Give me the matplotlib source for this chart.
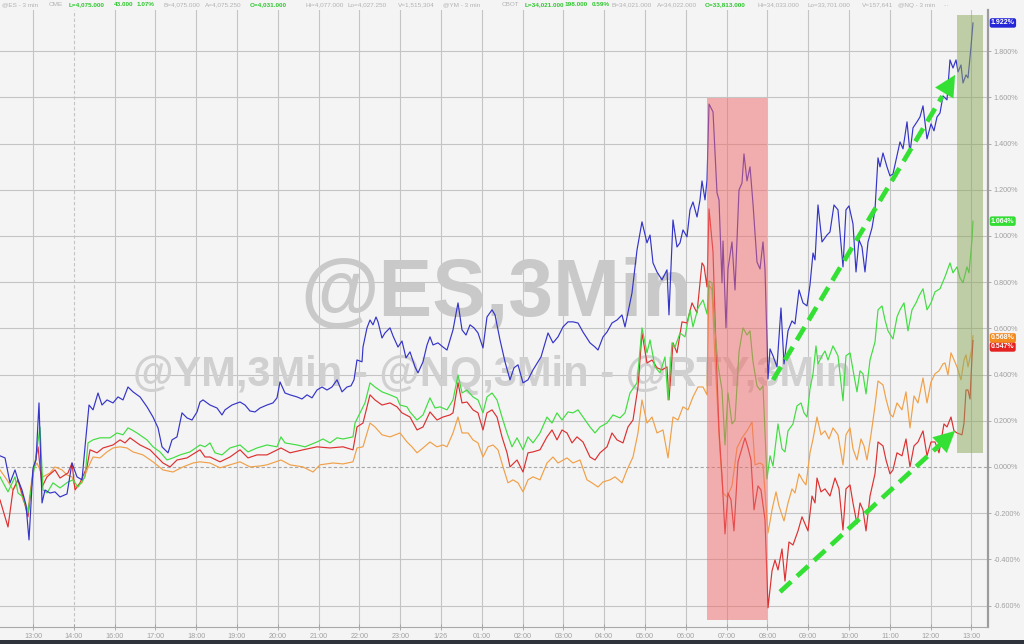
import matplotlib
matplotlib.use('Agg')
import matplotlib.pyplot as plt
from matplotlib.patches import Rectangle
import matplotlib.transforms as mtransforms
import numpy as np

plt.rcParams['font.family'] = ['Liberation Sans', 'DejaVu Sans']

# ---------------- data ----------------
hour_labels = ['13:00', '14:00', '16:00', '17:00', '18:00', '19:00', '20:00', '21:00',
               '22:00', '23:00', '1/26', '01:00', '02:00', '03:00', '04:00', '05:00',
               '06:00', '07:00', '08:00', '09:00', '10:00', '11:00', '12:00', '13:00']

# NQ (blue)  time in trading hours since 13:00, value in %
t_nq = [-0.809, -0.686, -0.564, -0.441, -0.368, -0.270, -0.172, -0.098, 0.0, 0.074, 0.147, 0.221, 0.294, 0.417,
        0.539, 0.662, 0.833, 0.956, 1.078, 1.201, 1.275, 1.373, 1.471, 1.593, 1.691, 1.814, 1.961, 2.083, 2.206,
        2.328, 2.451, 2.623, 2.794, 2.941, 3.064, 3.162, 3.235, 3.309, 3.407, 3.529, 3.652, 3.775, 3.897, 4.020,
        4.093, 4.167, 4.338, 4.510, 4.632, 4.706, 4.877, 5.074, 5.196, 5.319, 5.441, 5.564, 5.735, 5.882, 5.980,
        6.054, 6.176, 6.299, 6.471, 6.593, 6.716, 6.838, 6.961, 7.083, 7.206, 7.328, 7.451, 7.574, 7.696, 7.794,
        7.868, 7.941, 8.064, 8.088, 8.186, 8.260, 8.333, 8.407, 8.456, 8.554, 8.627, 8.750, 8.824, 8.946, 9.044,
        9.142, 9.240, 9.363, 9.436, 9.559, 9.657, 9.730, 9.804, 9.926, 10.049, 10.147, 10.294, 10.417, 10.515,
        10.613, 10.711, 10.809, 10.907, 11.029, 11.127, 11.250, 11.324, 11.446, 11.569, 11.691, 11.789, 11.887,
        12.010, 12.132, 12.255, 12.377, 12.451, 12.623, 12.745, 12.868, 12.990, 13.113, 13.235, 13.358, 13.480,
        13.652, 13.775, 13.848, 13.971, 14.069, 14.191, 14.314, 14.436, 14.510, 14.681, 14.804, 14.926, 15.049,
        15.123, 15.196, 15.294, 15.417, 15.539, 15.588, 15.686, 15.784, 15.858, 15.931, 16.029, 16.103, 16.176,
        16.275, 16.348, 16.397, 16.471, 16.520, 16.569, 16.667, 16.765, 16.814, 16.887, 16.912, 16.985, 17.034,
        17.132, 17.206, 17.304, 17.377, 17.426, 17.500, 17.574, 17.647, 17.745, 17.819, 17.892, 17.941, 18.015,
        18.064, 18.137, 18.235, 18.333, 18.407, 18.505, 18.603, 18.676, 18.775, 18.873, 18.971, 19.044, 19.118,
        19.167, 19.240, 19.338, 19.461, 19.534, 19.632, 19.730, 19.853, 19.926, 20.000, 20.098, 20.172, 20.245,
        20.319, 20.392, 20.466, 20.564, 20.637, 20.711, 20.760, 20.833, 20.931, 21.005, 21.078, 21.176, 21.250,
        21.324, 21.422, 21.495, 21.569, 21.667, 21.740, 21.814, 21.912, 22.010, 22.083, 22.157, 22.230, 22.304,
        22.402, 22.475, 22.549, 22.623, 22.672, 22.745, 22.794, 22.868, 22.917, 22.990, 23.039]
v_nq = [0.048, 0.039, -0.069, -0.013, -0.056, -0.100, -0.165, -0.316, -0.004, 0.030, 0.277, -0.156, -0.100, -0.113,
        -0.108, -0.130, -0.117, 0.017, -0.043, -0.056, 0.087, 0.268, 0.247, 0.320, 0.268, 0.290, 0.277, 0.303, 0.290,
        0.346, 0.325, 0.303, 0.260, 0.216, 0.169, 0.087, 0.074, 0.061, 0.117, 0.130, 0.234, 0.212, 0.203, 0.238,
        0.281, 0.290, 0.268, 0.255, 0.225, 0.247, 0.268, 0.281, 0.268, 0.242, 0.238, 0.255, 0.268, 0.277, 0.299,
        0.368, 0.320, 0.312, 0.303, 0.294, 0.312, 0.299, 0.333, 0.346, 0.333, 0.346, 0.377, 0.325, 0.346, 0.351,
        0.377, 0.463, 0.455, 0.519, 0.602, 0.636, 0.615, 0.649, 0.628, 0.558, 0.580, 0.602, 0.567, 0.519, 0.545,
        0.472, 0.498, 0.433, 0.407, 0.455, 0.528, 0.563, 0.528, 0.537, 0.519, 0.506, 0.593, 0.710, 0.593,
        0.571, 0.615, 0.602, 0.580, 0.515, 0.649, 0.680, 0.658, 0.550, 0.455, 0.377, 0.429, 0.442,
        0.364, 0.377, 0.420, 0.455, 0.476, 0.580, 0.537, 0.563, 0.606, 0.628, 0.628, 0.623, 0.584,
        0.537, 0.519, 0.506, 0.563, 0.584, 0.623, 0.636, 0.658, 0.606, 0.753, 0.939, 1.061, 0.970,
        1.004, 0.883, 0.844, 0.810, 0.853, 0.658, 1.069, 0.952, 0.970, 1.026, 0.996, 1.113, 1.147,
        1.082, 1.156, 1.238, 1.156, 1.242, 1.571, 1.537, 1.186, 1.156, 0.797, 0.978, 0.602, 0.857,
        0.974, 0.766, 1.199, 1.229, 1.355, 1.238, 1.299, 1.139, 0.887, 0.857, 0.974, 0.857, 0.381,
        0.511, 0.481, 0.433, 0.688, 0.446, 0.589, 0.632, 0.619, 0.766, 0.710, 0.697, 0.788, 0.926,
        0.896, 1.134, 0.974, 1.004, 1.017, 1.134, 1.113, 0.866, 1.113, 1.130, 1.052, 0.844, 0.983,
        0.952, 0.844, 0.974, 1.035, 1.113, 1.338, 1.299, 1.359, 1.299, 1.260, 1.268, 1.346, 1.407,
        1.377, 1.494, 1.359, 1.468, 1.494, 1.515, 1.563, 1.420, 1.485, 1.455, 1.515, 1.532, 1.606,
        1.589, 1.762, 1.727, 1.762, 1.710, 1.740, 1.662, 1.697, 1.684, 1.818, 1.922]

# ES (green)
t_es = [-0.809, -0.613, -0.441, -0.368, -0.245, -0.123, -0.025, 0.049, 0.172, 0.245, 0.343, 0.490, 0.662, 0.858,
        0.980, 1.103, 1.275, 1.348, 1.471, 1.642, 1.887, 2.059, 2.206, 2.328, 2.426, 2.549, 2.794, 2.941, 3.113,
        3.284, 3.431, 3.603, 3.848, 4.093, 4.216, 4.338, 4.461, 4.632, 4.828, 5.074, 5.270, 5.490, 5.735, 5.980,
        6.078, 6.176, 6.471, 6.667, 6.961, 7.108, 7.279, 7.451, 7.598, 7.843, 7.892, 8.015, 8.137, 8.260, 8.382,
        8.554, 8.750, 8.922, 8.995, 9.167, 9.240, 9.412, 9.559, 9.730, 9.853, 9.975, 10.147, 10.294, 10.417,
        10.515, 10.637, 10.784, 10.907, 11.029, 11.127, 11.250, 11.373, 11.495, 11.618, 11.740, 11.863, 12.010,
        12.132, 12.255, 12.426, 12.598, 12.721, 12.843, 12.966, 13.113, 13.235, 13.358, 13.480, 13.652, 13.775,
        13.897, 14.069, 14.216, 14.387, 14.510, 14.632, 14.804, 14.926, 15.049, 15.123, 15.245, 15.368, 15.490,
        15.564, 15.662, 15.735, 15.858, 15.980, 16.103, 16.176, 16.299, 16.422, 16.520, 16.569, 16.642, 16.716,
        16.789, 16.887, 16.961, 17.034, 17.132, 17.206, 17.304, 17.402, 17.500, 17.574, 17.647, 17.745, 17.819,
        17.892, 17.990, 18.064, 18.137, 18.260, 18.358, 18.431, 18.505, 18.627, 18.725, 18.824, 18.897, 18.971,
        19.044, 19.118, 19.191, 19.240, 19.338, 19.412, 19.485, 19.608, 19.730, 19.853, 19.926, 20.025, 20.098,
        20.196, 20.270, 20.343, 20.417, 20.515, 20.637, 20.711, 20.809, 20.882, 20.956, 21.078, 21.176, 21.250,
        21.348, 21.446, 21.544, 21.642, 21.716, 21.814, 21.912, 22.010, 22.108, 22.230, 22.353, 22.475, 22.549,
        22.647, 22.721, 22.794, 22.892, 22.941, 23.015, 23.039]
v_es = [-0.043, -0.108, -0.043, -0.113, -0.130, -0.199, -0.069, 0.017, 0.173, -0.100, -0.113, -0.069, -0.091, -0.065,
        -0.056, -0.087, -0.043, 0.104, 0.117, 0.126, 0.126, 0.147, 0.139, 0.169, 0.160, 0.147, 0.117, 0.087, 0.065,
        0.030, 0.039, 0.052, 0.065, 0.095, 0.087, 0.104, 0.061, 0.052, 0.082, 0.095, 0.065, 0.082, 0.095, 0.087,
        0.130, 0.104, 0.095, 0.087, 0.108, 0.121, 0.104, 0.126, 0.121, 0.130, 0.190, 0.234, 0.277, 0.364, 0.346,
        0.325, 0.312, 0.299, 0.268, 0.260, 0.238, 0.203, 0.225, 0.299, 0.255, 0.260, 0.247, 0.290, 0.398,
        0.320, 0.333, 0.303, 0.290, 0.234, 0.303, 0.320, 0.290, 0.216, 0.147, 0.087, 0.126, 0.074,
        0.130, 0.104, 0.147, 0.216, 0.190, 0.234, 0.203, 0.238, 0.234, 0.247, 0.216, 0.173, 0.147,
        0.173, 0.190, 0.225, 0.212, 0.234, 0.320, 0.364, 0.602, 0.494, 0.550, 0.433, 0.407, 0.476,
        0.290, 0.537, 0.519, 0.580, 0.563, 0.680, 0.606, 0.688, 0.723, 0.662, 0.805, 0.797, 0.589,
        0.442, 0.333, 0.095, 0.320, 0.186, 0.203, 0.498, 0.602, 0.571, 0.589, 0.455, 0.351, 0.333,
        0.351, -0.052, 0.048, 0.004, 0.186, 0.078, 0.065, 0.156, 0.186, 0.264, 0.277, 0.234, 0.216,
        0.338, 0.403, 0.524, 0.446, 0.481, 0.502, 0.463, 0.524, 0.481, 0.286, 0.481, 0.494, 0.420,
        0.325, 0.416, 0.403, 0.316, 0.463, 0.541, 0.680, 0.697, 0.636, 0.589, 0.554, 0.649, 0.680,
        0.710, 0.589, 0.680, 0.710, 0.740, 0.771, 0.680, 0.710, 0.758, 0.771, 0.823, 0.883, 0.840,
        0.866, 0.818, 0.797, 0.866, 0.840, 0.983, 1.064]

# RTY (red)
t_rty = [-0.809, -0.613, -0.490, -0.368, -0.245, -0.123, 0.0, 0.123, 0.221, 0.343, 0.539, 0.662, 0.858, 0.956,
         1.029, 1.152, 1.324, 1.397, 1.569, 1.716, 1.961, 2.132, 2.255, 2.377, 2.623, 2.868, 3.039, 3.186, 3.358,
         3.529, 3.775, 4.093, 4.216, 4.338, 4.583, 4.828, 5.074, 5.270, 5.490, 5.735, 6.078, 6.299, 6.618, 6.961,
         7.279, 7.598, 7.843, 7.941, 8.088, 8.260, 8.382, 8.554, 8.750, 8.922, 9.044, 9.240, 9.412, 9.559, 9.730,
         9.902, 10.049, 10.221, 10.294, 10.417, 10.515, 10.637, 10.784, 10.907, 11.029, 11.127, 11.250, 11.373,
         11.495, 11.618, 11.691, 11.863, 12.010, 12.132, 12.255, 12.426, 12.598, 12.721, 12.843, 12.966, 13.088,
         13.211, 13.333, 13.480, 13.652, 13.775, 13.897, 14.069, 14.191, 14.314, 14.461, 14.583, 14.706, 14.828,
         14.926, 15.049, 15.172, 15.294, 15.417, 15.539, 15.588, 15.686, 15.784, 15.907, 16.029, 16.152, 16.275,
         16.397, 16.446, 16.520, 16.569, 16.667, 16.740, 16.814, 16.887, 16.961, 17.034, 17.108, 17.181, 17.279,
         17.377, 17.451, 17.525, 17.598, 17.672, 17.770, 17.843, 17.941, 18.015, 18.113, 18.186, 18.260, 18.358,
         18.431, 18.529, 18.627, 18.750, 18.848, 18.922, 18.995, 19.093, 19.167, 19.216, 19.314, 19.412, 19.534,
         19.657, 19.755, 19.853, 19.926, 20.025, 20.098, 20.196, 20.270, 20.343, 20.417, 20.515, 20.637, 20.711,
         20.833, 20.907, 21.005, 21.078, 21.176, 21.299, 21.397, 21.495, 21.593, 21.691, 21.814, 21.912, 22.010,
         22.108, 22.206, 22.328, 22.402, 22.500, 22.574, 22.647, 22.770, 22.819, 22.868, 22.917, 22.966, 23.015,
         23.039]
v_rty = [-0.143, -0.260, -0.100, -0.056, -0.130, -0.216, -0.026, 0.087, -0.087, -0.043, -0.013, -0.048, -0.026, 0.017,
         -0.100, -0.069, 0.000, 0.074, 0.061, 0.082, 0.095, 0.117, 0.104, 0.126, 0.095, 0.074, 0.043, 0.017, 0.000,
         0.030, 0.039, 0.074, 0.043, 0.043, 0.022, 0.043, 0.074, 0.039, 0.052, 0.052, 0.082, 0.061, 0.074, 0.087,
         0.082, 0.087, 0.074, 0.173, 0.190, 0.312, 0.290, 0.268, 0.277, 0.260, 0.234, 0.216, 0.160, 0.173, 0.238,
         0.203, 0.216, 0.225, 0.234, 0.364, 0.277, 0.281, 0.247, 0.234, 0.160, 0.234, 0.247, 0.216,
         0.130, 0.061, 0.000, 0.030, -0.022, 0.061, 0.065, 0.074, 0.130, 0.160, 0.117, 0.160, 0.147,
         0.104, 0.130, 0.108, 0.043, 0.030, 0.061, 0.087, 0.147, 0.117, 0.104, 0.173, 0.203, 0.346,
         0.580, 0.450, 0.463, 0.429, 0.420, 0.433, 0.290, 0.537, 0.494, 0.628, 0.623, 0.710, 0.667,
         0.883, 0.870, 0.779, 1.117, 0.931, 0.515, 0.156, -0.039, -0.290, -0.113, -0.143, -0.277, 0.022,
         0.082, 0.126, 0.082, 0.030, -0.186, -0.082, -0.100, -0.229, -0.610, -0.450, -0.403, -0.446, -0.355,
         -0.494, -0.325, -0.338, -0.277, -0.216, -0.247, -0.277, -0.126, -0.156, -0.048, -0.108, -0.095, -0.126,
         -0.048, -0.095, -0.273, -0.095, -0.078, -0.156, -0.247, -0.156, -0.186, -0.277, -0.126, -0.030, 0.108,
         0.091, 0.030, -0.030, -0.013, 0.061, 0.048, 0.121, 0.000, 0.091, 0.108, 0.156, 0.048, 0.108,
         0.108, 0.061, 0.186, 0.173, 0.216, 0.156, 0.147, 0.139, 0.190, 0.333, 0.333, 0.294, 0.476,
         0.547]

# YM (orange)
t_ym = [-0.809, -0.637, -0.490, -0.368, -0.245, -0.123, 0.0, 0.098, 0.245, 0.417, 0.539, 0.711, 0.833, 0.956,
        1.029, 1.201, 1.348, 1.471, 1.642, 1.814, 1.961, 2.132, 2.304, 2.451, 2.696, 2.941, 3.186, 3.431, 3.676,
        3.922, 4.093, 4.338, 4.583, 4.828, 5.074, 5.319, 5.564, 5.735, 6.078, 6.299, 6.618, 6.863, 7.034, 7.353,
        7.598, 7.843, 7.941, 8.088, 8.260, 8.382, 8.554, 8.750, 8.995, 9.167, 9.289, 9.412, 9.559, 9.730, 9.902,
        10.049, 10.147, 10.294, 10.417, 10.515, 10.662, 10.784, 10.907, 11.029, 11.152, 11.275, 11.397, 11.520,
        11.642, 11.765, 11.887, 12.010, 12.132, 12.255, 12.426, 12.598, 12.745, 12.868, 13.088, 13.235, 13.407,
        13.578, 13.701, 13.848, 13.971, 14.142, 14.265, 14.436, 14.559, 14.706, 14.828, 14.926, 15.049, 15.172,
        15.294, 15.441, 15.564, 15.686, 15.809, 15.931, 16.054, 16.176, 16.299, 16.422, 16.520, 16.569, 16.642,
        16.716, 16.838, 16.912, 17.010, 17.132, 17.255, 17.377, 17.500, 17.623, 17.696, 17.819, 17.892, 18.015,
        18.113, 18.211, 18.284, 18.407, 18.505, 18.603, 18.676, 18.775, 18.873, 18.946, 19.044, 19.118, 19.216,
        19.314, 19.412, 19.510, 19.608, 19.730, 19.853, 19.926, 20.025, 20.098, 20.196, 20.294, 20.368, 20.441,
        20.539, 20.637, 20.711, 20.833, 20.907, 21.005, 21.078, 21.176, 21.299, 21.397, 21.495, 21.593, 21.691,
        21.814, 21.912, 22.010, 22.108, 22.206, 22.304, 22.353, 22.426, 22.500, 22.574, 22.647, 22.745, 22.819,
        22.868, 22.917, 23.015, 23.039]
v_ym = [-0.013, -0.056, -0.100, -0.056, -0.143, -0.186, -0.013, 0.017, -0.043, -0.026, 0.000, -0.013, -0.035, -0.043,
        -0.087, -0.069, -0.004, 0.043, 0.039, 0.065, 0.082, 0.087, 0.082, 0.065, 0.052, 0.022, -0.013, -0.022, 0.000,
        0.017, 0.022, 0.017, -0.004, 0.009, 0.022, 0.000, 0.004, 0.009, 0.030, 0.009, 0.000, -0.022, 0.009, 0.017,
        0.013, 0.022, 0.082, 0.087, 0.190, 0.173, 0.139, 0.130, 0.147, 0.108, 0.087, 0.061, 0.082, 0.108, 0.087,
        0.095, 0.087, 0.147, 0.216, 0.147, 0.147, 0.117, 0.104, 0.043, 0.087, 0.095, 0.074, 0.000,
        -0.069, -0.056, -0.069, -0.108, -0.056, -0.043, -0.056, 0.017, 0.043, 0.017, 0.039, 0.017, 0.030,
        -0.056, -0.069, -0.087, -0.065, -0.056, -0.043, -0.069, -0.013, 0.043, 0.147, 0.290, 0.190, 0.216,
        0.147, 0.160, 0.039, 0.216, 0.203, 0.260, 0.247, 0.303, 0.346, 0.346, 0.312, 0.788, 0.766,
        0.463, 0.065, -0.113, -0.130, -0.082, 0.082, 0.126, 0.156, 0.195, 0.009, 0.017, 0.009, -0.286,
        -0.186, -0.108, -0.169, -0.234, -0.156, -0.095, -0.113, -0.030, -0.061, -0.078, 0.061, 0.121, 0.216,
        0.139, 0.156, 0.121, 0.169, 0.139, 0.009, 0.139, 0.169, 0.078, 0.030, 0.121, 0.091, 0.030,
        0.139, 0.264, 0.372, 0.355, 0.294, 0.229, 0.216, 0.277, 0.247, 0.325, 0.169, 0.307, 0.277,
        0.385, 0.277, 0.368, 0.403, 0.416, 0.446, 0.450, 0.398, 0.494, 0.463, 0.433, 0.377, 0.463,
        0.485, 0.433, 0.515, 0.568]

# highlighted zones (time, value extents) and trend arrows
sell_zone = (16.52, 18.00, -0.662, 1.597)
rally_zone = (22.65, 23.28, 0.060, 1.957)
arrow_nq = ((18.14, 0.377), (22.60, 1.697))
arrow_rty = ((18.31, -0.541), (22.60, 0.156))

# last-value tags: text, value, colour, vertical nudge in points
last_vals = [('1.922%', 1.922, '#2626d9', 0), ('1.064%', 1.064, '#33dd33', 0),
             ('0.547%', 0.547, '#e52222', -4.6), ('0.568%', 0.568, '#f28a1e', -1.6)]

header = [(2, '@ES - 3 min', 0), (49, 'CME', 0), (69, 'L=4,075.000', 1), (114, '43.000', 1), (137, '1.07%', 1),
          (163, 'B=4,075.000', 0), (205, 'A=4,075.250', 0), (250, 'O=4,031.000', 1), (305, 'Hi=4,077.000', 0),
          (347, 'Lo=4,027.250', 0), (398, 'V=1,515,304', 0), (443, '@YM - 3 min', 0), (502, 'CBOT', 0),
          (525, 'L=34,021.000', 1), (565, '198.000', 1), (592, '0.59%', 1), (612, 'B=34,021.000', 0),
          (657, 'A=34,022.000', 0), (705, 'O=33,813.000', 1), (757, 'Hi=34,033.000', 0),
          (807, 'Lo=33,701.000', 0), (862, 'V=157,641', 0), (898, '@NQ - 3 min', 0), (943, '...', 0)]

# ---------------- figure ----------------
W, H = 1024, 644
bg = '#f4f4f4'
fig = plt.figure(figsize=(W / 100, H / 100), dpi=100, facecolor=bg)
ax = fig.add_axes([0, 1 - 627 / H, 988 / W, (627 - 10) / H], facecolor=bg)
ax.set_xlim(-0.809, 23.407)
ax.set_ylim(-0.693, 1.978)

xt = np.arange(len(hour_labels))
yt = np.round(np.arange(-0.6, 1.81, 0.2), 1)

grid_c = '#c4c4c4'
for i, t in enumerate(xt):
    ax.axvline(t, color=grid_c, lw=0.8, ls=(0, (3, 2)) if i == 1 else '-', zorder=0.5)
for v in yt:
    if abs(v) < 1e-9:
        ax.axhline(v, color='#a8a8a8', lw=0.8, ls=(0, (3, 2)), zorder=0.5)
    else:
        ax.axhline(v, color=grid_c, lw=0.8, zorder=0.5)

ax.set_xticks(xt)
ax.set_xticklabels(hour_labels)
ax.set_yticks(yt)
ax.set_yticklabels([f'{v:.3f}%' for v in yt])
ax.yaxis.tick_right()
ax.tick_params(axis='x', labelsize=5.2, colors='#a0a0a0', direction='inout', length=4, pad=2, width=0.6)
ax.tick_params(axis='y', labelsize=5.2, colors='#a0a0a0', length=2.5, pad=1.5, width=0.6)
for s in ['top', 'left']:
    ax.spines[s].set_visible(False)
ax.spines['right'].set_color('#9c9c9c')
ax.spines['right'].set_linewidth(1.6)
ax.spines['bottom'].set_color('#a8a8a8')
ax.spines['bottom'].set_linewidth(0.8)

# watermark
ax.text(0.502, (627 - 295) / 617, '@ES,3Min', transform=ax.transAxes, fontsize=58,
        fontweight='bold', color='#c9c9c9', ha='center', va='center', zorder=1)
ax.text(0.498, (627 - 375) / 617, '@YM,3Min - @NQ,3Min - @RTY,3Min', transform=ax.transAxes, fontsize=30,
        fontweight='bold', color='#d0d0d0', ha='center', va='center', zorder=1)

# series
ax.plot(t_ym, v_ym, color='#f0a048', lw=0.85, zorder=3)
ax.plot(t_rty, v_rty, color='#dd3030', lw=0.85, zorder=3)
ax.plot(t_es, v_es, color='#40dd40', lw=0.85, zorder=3)
ax.plot(t_nq, v_nq, color='#3434c8', lw=0.85, zorder=3)

# zones (semi-transparent, over the lines)
x0, x1, y0, y1 = sell_zone
ax.add_patch(Rectangle((x0, y0), x1 - x0, y1 - y0, facecolor='#f06868', alpha=0.5, edgecolor='none', zorder=4))
x0, x1, y0, y1 = rally_zone
ax.add_patch(Rectangle((x0, y0), x1 - x0, y1 - y0, facecolor='#8aa85a', alpha=0.5, edgecolor='none', zorder=4))

# dashed trend arrows
arrow_c = '#33e033'
for (s, e) in (arrow_nq, arrow_rty):
    fr = 0.93
    mid = (s[0] + (e[0] - s[0]) * fr, s[1] + (e[1] - s[1]) * fr)
    ln, = ax.plot([s[0], mid[0]], [s[1], mid[1]], color=arrow_c, lw=3.4, zorder=5, solid_capstyle='butt')
    ln.set_dashes((3.2, 1.7))
    ax.annotate('', xy=e, xytext=mid, zorder=5,
                arrowprops=dict(arrowstyle='-|>,head_length=0.75,head_width=0.38', color=arrow_c, lw=0.1,
                                shrinkA=0, shrinkB=0, mutation_scale=20))

# last-value labels on the right axis
trans = mtransforms.blended_transform_factory(ax.transAxes, ax.transData)
for txt, val, col, dy in last_vals:
    ax.annotate(txt, xy=(1.003, val), xycoords=trans, xytext=(0, dy), textcoords='offset points',
                ha='left', va='center', fontsize=5.0, fontweight='bold', color='white', zorder=6,
                annotation_clip=False,
                bbox=dict(boxstyle='round,pad=0.18,rounding_size=0.3', fc=col, ec='none'))

# header line
for xp, txt, hi in header:
    fig.text(xp / W, 1 - 5 / H, txt, fontsize=4.6, ha='left', va='center',
             color='#2fc82f' if hi else '#b2b2b2', fontweight='bold' if hi else 'normal')

# bottom dark strip
fig.patches.append(Rectangle((0, 0), 1, 4 / H, transform=fig.transFigure, facecolor='#2f333b',
                             edgecolor='none', zorder=10))

fig.savefig('out.png', dpi=100, facecolor=bg)
